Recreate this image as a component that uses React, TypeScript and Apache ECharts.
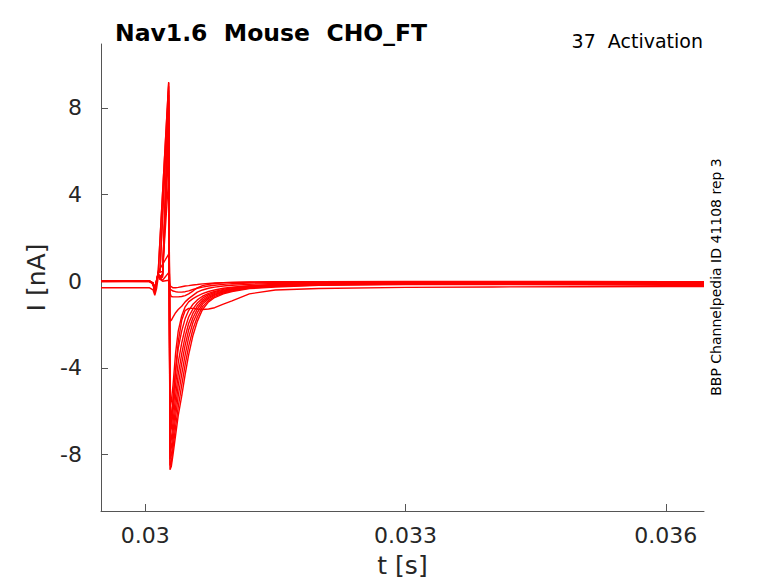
import React, { useEffect, useRef } from "react";
import * as echarts from "echarts";

// time samples [s]
const TIME = [
  0.02949, 0.03005, 0.03009, 0.03011, 0.03013, 0.03015, 0.03017, 0.0302,
  0.03027, 0.030285, 0.0303, 0.03032, 0.03035, 0.03038, 0.03042, 0.03046,
  0.0305, 0.03055, 0.0306, 0.03066, 0.03073, 0.0308, 0.0309, 0.031,
  0.0312, 0.0315, 0.032, 0.033, 0.034, 0.035, 0.036, 0.03644,
];

// currents [nA] per sweep (null = no sample at that time)
const S1 = [0.02, 0.0, -0.15, -0.55, -0.1, 0.5, null, null, 9.2, -8.7, -8.55, -8.0, -7.1, -6.2, -5.3, -4.3, -3.4, -2.5, -1.85, -1.3, -0.95, -0.75, -0.58, -0.47, -0.34, -0.26, -0.19, -0.15, -0.15, -0.16, -0.18, -0.2];
const S2 = [0.0, 0.01, -0.12, -0.5, -0.05, 0.45, null, null, 9.15, -8.5, -8.35, -7.7, -6.7, -5.8, -4.8, -3.85, -3.0, -2.2, -1.65, -1.17, -0.88, -0.7, -0.54, -0.44, -0.31, -0.23, -0.17, -0.13, -0.12, -0.13, -0.14, -0.15];
const S3 = [-0.02, 0.0, -0.1, -0.48, -0.08, 0.4, 0.5, null, 9.0, -8.2, -8.05, -7.35, -6.25, -5.3, -4.3, -3.4, -2.6, -1.9, -1.45, -1.05, -0.8, -0.64, -0.5, -0.4, -0.29, -0.21, -0.15, -0.11, -0.1, -0.11, -0.12, -0.13];
const S4 = [0.0, -0.01, -0.14, -0.45, -0.02, 0.42, 0.4, null, 8.8, -7.9, -7.7, -6.95, -5.8, -4.8, -3.8, -2.95, -2.25, -1.68, -1.28, -0.95, -0.74, -0.6, -0.47, -0.38, -0.27, -0.2, -0.14, -0.1, -0.08, -0.09, -0.1, -0.1];
const S5 = [0.01, 0.0, -0.12, -0.42, -0.06, 0.38, 0.2, 0.35, 8.6, -7.5, -7.3, -6.5, -5.3, -4.3, -3.35, -2.55, -1.95, -1.47, -1.14, -0.87, -0.68, -0.56, -0.44, -0.36, -0.26, -0.19, -0.13, -0.09, -0.07, -0.08, -0.08, -0.09];
const S6 = [0.0, 0.0, -0.1, -0.4, -0.04, 0.35, 0.15, 0.3, 8.3, -7.0, -6.8, -6.0, -4.75, -3.75, -2.85, -2.15, -1.65, -1.27, -1.0, -0.78, -0.62, -0.51, -0.41, -0.34, -0.24, -0.17, -0.12, -0.08, -0.06, -0.06, -0.07, -0.07];
const S7 = [0.0, 0.02, -0.08, -0.36, 0.0, 0.3, 0.1, 0.25, 7.9, -6.4, -6.2, -5.4, -4.1, -3.1, -2.3, -1.72, -1.35, -1.06, -0.86, -0.69, -0.56, -0.47, -0.37, -0.3, -0.22, -0.16, -0.11, -0.07, -0.05, -0.05, -0.06, -0.06];
const S8 = [0.0, 0.0, -0.06, -0.32, 0.02, 0.28, 0.08, 0.2, 7.3, -5.8, -5.55, -4.8, -3.3, -2.3, -1.6, -1.18, -0.95, -0.8, -0.68, -0.57, -0.47, -0.4, -0.32, -0.27, -0.2, -0.15, -0.1, -0.06, -0.04, -0.04, -0.05, -0.05];
const H1 = [-0.3, -0.3, -0.4, -0.65, -0.35, 0.2, null, 0.3, 6.2, -6.8, -6.5, -5.6, -4.1, -2.8, -1.8, -1.35, -1.25, -1.25, -1.28, -1.3, -1.28, -1.22, -1.05, -0.9, -0.58, -0.4, -0.33, -0.28, -0.26, -0.25, -0.24, -0.24];
const N1 = [0.0, 0.0, -0.1, -0.4, 0.0, 0.45, null, null, 1.25, -0.55, -0.7, -0.72, -0.72, -0.72, -0.7, -0.66, -0.58, -0.45, -0.3, -0.2, -0.14, -0.1, -0.07, -0.05, -0.03, -0.02, -0.02, -0.01, -0.01, -0.01, -0.02, -0.02];
const N2 = [0.0, 0.01, -0.12, -0.45, -0.05, 0.4, null, 0.45, 4.8, -1.85, -1.8, -1.65, -1.45, -1.3, -1.15, -0.95, -0.8, -0.65, -0.5, -0.4, -0.32, -0.27, -0.22, -0.18, -0.14, -0.1, -0.07, -0.05, -0.04, -0.04, -0.05, -0.05];
const Z1 = [0.0, 0.0, -0.1, -0.35, 0.05, 0.35, 0.1, 0.0, 0.05, -0.2, -0.25, -0.3, -0.3, -0.28, -0.25, -0.22, -0.2, -0.17, -0.15, -0.12, -0.1, -0.08, -0.06, -0.05, -0.04, -0.03, -0.02, -0.02, -0.02, -0.02, -0.02, -0.02];
const Z2 = [0.0, 0.0, -0.08, -0.3, 0.05, 0.3, 0.12, 0.05, 0.4, -0.35, -0.4, -0.45, -0.48, -0.5, -0.5, -0.48, -0.44, -0.38, -0.32, -0.27, -0.22, -0.18, -0.14, -0.11, -0.08, -0.06, -0.04, -0.03, -0.03, -0.03, -0.03, -0.03];

const TRACES = [S1, S2, S3, S4, S5, S6, S7, S8, H1, N1, N2, Z1, Z2];

const X_TICKS = [0.03, 0.033, 0.036];
const X_TICK_LABELS = ["0.03", "0.033", "0.036"];
const Y_TICKS = [-8, -4, 0, 4, 8];
const Y_TICK_LABELS = ["-8", "-4", "0", "4", "8"];

const TITLE = "Nav1.6  Mouse  CHO_FT";
const SUBTITLE = "37  Activation";
const SIDE_NOTE = "BBP Channelpedia ID 41108 rep 3";

export default function App() {
  const ref = useRef<HTMLDivElement>(null);

  useEffect(() => {
    document.body.style.margin = "0";
    const chart = echarts.init(ref.current as HTMLDivElement, null, { renderer: "svg" });
    const ff = "DejaVu Sans";
    const axisColor = "#555555";
    const textColor = "#262626";

    const series = TRACES.map((vals, k) => ({
      type: "line",
      name: "sweep" + (k + 1),
      data: TIME.map((t, i) => [t, vals[i]]).filter((p) => p[1] !== null),
      showSymbol: false,
      symbol: "none",
      silent: true,
      lineStyle: { color: "#ff0000", width: 1.4 },
      z: 2,
    }));

    chart.setOption({
      animation: false,
      backgroundColor: "#ffffff",
      grid: { left: 101, right: 74, top: 44, bottom: 71 },
      xAxis: {
        type: "value",
        min: 0.02949,
        max: 0.03644,
        name: "t [s]",
        nameLocation: "middle",
        nameGap: 42,
        nameTextStyle: { fontFamily: ff, fontSize: 25, color: textColor },
        axisLine: { show: true, onZero: false, lineStyle: { color: axisColor, width: 1 } },
        axisTick: { show: true, inside: true, length: 7, customValues: X_TICKS, lineStyle: { color: axisColor } },
        axisLabel: {
          customValues: X_TICKS,
          fontFamily: ff,
          fontSize: 22,
          color: textColor,
          margin: 13,
          formatter: (v: number) => {
            const i = X_TICKS.findIndex((x) => Math.abs(x - v) < 1e-9);
            return i >= 0 ? X_TICK_LABELS[i] : "";
          },
        },
        splitLine: { show: false },
      },
      yAxis: {
        type: "value",
        min: -10.6,
        max: 10.95,
        name: "I [nA]",
        nameLocation: "middle",
        nameGap: 46,
        nameTextStyle: { fontFamily: ff, fontSize: 25, color: textColor },
        axisLine: { show: true, onZero: false, lineStyle: { color: axisColor, width: 1 } },
        axisTick: { show: true, inside: true, length: 7, customValues: Y_TICKS, lineStyle: { color: axisColor } },
        axisLabel: {
          customValues: Y_TICKS,
          fontFamily: ff,
          fontSize: 22,
          color: textColor,
          margin: 19,
          formatter: (v: number) => {
            const i = Y_TICKS.findIndex((y) => Math.abs(y - v) < 1e-9);
            return i >= 0 ? Y_TICK_LABELS[i] : "";
          },
        },
        splitLine: { show: false },
      },
      series,
      graphic: [
        {
          type: "text",
          x: 115,
          y: 33,
          style: {
            text: TITLE,
            fontFamily: ff,
            fontWeight: "bold",
            fontSize: 23.5,
            fill: "#000000",
            align: "left",
            verticalAlign: "middle",
          },
        },
        {
          type: "text",
          x: 703,
          y: 41,
          style: {
            text: SUBTITLE,
            fontFamily: ff,
            fontSize: 19,
            fill: "#000000",
            align: "right",
            verticalAlign: "middle",
          },
        },
        {
          type: "text",
          x: 716,
          y: 277,
          rotation: Math.PI / 2,
          style: {
            text: SIDE_NOTE,
            fontFamily: ff,
            fontSize: 14,
            fill: "#000000",
            align: "center",
            verticalAlign: "middle",
          },
        },
      ],
    });

    return () => {
      chart.dispose();
    };
  }, []);

  return <div ref={ref} style={{ width: 778, height: 583 }} />;
}
